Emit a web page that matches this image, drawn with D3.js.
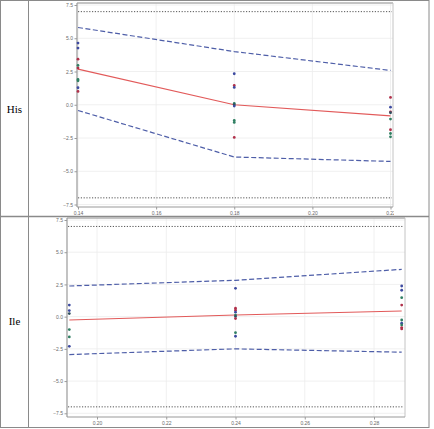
<!DOCTYPE html>
<html>
<head>
<meta charset="utf-8">
<script src="https://cdn.jsdelivr.net/npm/d3@7"></script>
<style>
  body { margin: 0; background: #fff; }
  svg { display: block; }
</style>
</head>
<body>
<script>
// --- His panel data ---
var hisX = [0.14, 0.18, 0.22];
var hisUpper = [5.81, 4.0, 2.58];
var hisFit = [2.68, 0.0, -0.83];
var hisLower = [-0.43, -3.93, -4.26];
var hisPoints = [
    [0.14, 4.64, "b"], [0.14, 4.26, "b"], [0.14, 3.43, "r"], [0.14, 2.96, "g"],
    [0.14, 2.76, "r"], [0.14, 1.9, "g"], [0.14, 1.8, "g"], [0.14, 1.28, "b"], [0.14, 1.0, "r"],
    [0.18, 2.33, "b"], [0.18, 1.45, "r"], [0.18, 1.3, "b"], [0.18, 0.1, "g"],
    [0.18, 0.0, "k"], [0.18, -0.1, "b"], [0.18, -1.18, "g"], [0.18, -1.33, "g"], [0.18, -2.46, "r"],
    [0.22, 0.55, "r"], [0.22, -0.18, "b"], [0.22, -0.53, "r"], [0.22, -0.6, "k"],
    [0.22, -1.08, "g"], [0.22, -1.88, "r"], [0.22, -2.16, "g"], [0.22, -2.41, "g"]
];
var hisXTicks = [0.14, 0.16, 0.18, 0.20, 0.22];

// --- Ile panel data ---
var ileX = [0.192, 0.24, 0.288];
var ileUpper = [2.38, 2.82, 3.67];
var ileFit = [-0.26, 0.13, 0.44];
var ileLower = [-2.94, -2.5, -2.76];
var ilePoints = [
    [0.192, 0.9, "b"], [0.192, 0.47, "b"], [0.192, 0.24, "k"], [0.192, -1.0, "g"],
    [0.192, -1.57, "g"], [0.192, -2.3, "b"],
    [0.24, 2.2, "b"], [0.24, 0.65, "r"], [0.24, 0.5, "r"], [0.24, 0.35, "b"],
    [0.24, 0.12, "g"], [0.24, 0.02, "k"], [0.24, -0.15, "r"], [0.24, -1.24, "g"], [0.24, -1.52, "b"],
    [0.288, 2.38, "b"], [0.288, 2.05, "b"], [0.288, 1.47, "g"], [0.288, 0.9, "r"],
    [0.288, -0.26, "g"], [0.288, -0.51, "b"], [0.288, -0.64, "g"], [0.288, -0.85, "r"], [0.288, -0.95, "r"]
];
var ileXTicks = [0.20, 0.22, 0.24, 0.26, 0.28];

var yTicks = [-7.5, -5.0, -2.5, 0.0, 2.5, 5.0, 7.5];
var limit = 7;

var pointColor = { b: "#3d4aa0", r: "#b0304a", g: "#2f7f62", k: "#2f4f5f" };

var width = 434, height = 429;

var svg = d3.select("body")
    .append("svg")
    .attr("width", width)
    .attr("height", height);

// table frame
var tableColor = "#8a8a8a";
svg.append("rect")
    .attr("x", 0.5).attr("y", 0.5)
    .attr("width", 428.5).attr("height", 427)
    .attr("fill", "none")
    .attr("stroke", tableColor);
svg.append("line")
    .attr("x1", 28.5).attr("x2", 28.5).attr("y1", 0).attr("y2", 428)
    .attr("stroke", tableColor);
svg.append("line")
    .attr("x1", 0).attr("x2", 429).attr("y1", 216.5).attr("y2", 216.5)
    .attr("stroke", tableColor).attr("stroke-width", 1.5);

svg.append("text")
    .attr("x", 14.5).attr("y", 110)
    .attr("text-anchor", "middle")
    .attr("dominant-baseline", "middle")
    .style("font-family", "Liberation Serif, serif")
    .style("font-size", "11px")
    .text("His");

svg.append("text")
    .attr("x", 14.5).attr("y", 322)
    .attr("text-anchor", "middle")
    .attr("dominant-baseline", "middle")
    .style("font-family", "Liberation Serif, serif")
    .style("font-size", "11px")
    .text("Ile");

drawPanel({
    id: "his",
    frame: [77, 3, 393, 207],
    xDomain: [0.14, 0.22], xRange: [78, 390.5],
    yRange: [204.5, 5],
    xTicks: hisXTicks,
    xs: hisX, upper: hisUpper, fit: hisFit, lower: hisLower,
    points: hisPoints,
    clipRight: 394
});

drawPanel({
    id: "ile",
    frame: [67, 218, 405, 417],
    xDomain: [0.20, 0.28], xRange: [97, 374],
    yRange: [413.3, 220],
    xTicks: ileXTicks,
    xs: ileX, upper: ileUpper, fit: ileFit, lower: ileLower,
    points: ilePoints,
    clipRight: 428
});

function drawPanel(p) {
    var left = p.frame[0], top = p.frame[1], right = p.frame[2], bottom = p.frame[3];

    var x = d3.scaleLinear().domain(p.xDomain).range(p.xRange);
    var y = d3.scaleLinear().domain([-7.5, 7.5]).range(p.yRange);

    svg.append("clipPath")
        .attr("id", "clip-" + p.id)
        .append("rect")
        .attr("x", 30).attr("y", top - 3)
        .attr("width", p.clipRight - 30).attr("height", bottom - top + 14);

    var g = svg.append("g").attr("clip-path", "url(#clip-" + p.id + ")");

    // grid
    g.selectAll(".gx")
        .data(p.xTicks)
        .enter().append("line")
        .attr("x1", function(d) { return x(d); })
        .attr("x2", function(d) { return x(d); })
        .attr("y1", top).attr("y2", bottom)
        .attr("stroke", "#ececec").attr("stroke-width", 0.8);

    g.selectAll(".gy")
        .data(yTicks)
        .enter().append("line")
        .attr("x1", left).attr("x2", right)
        .attr("y1", function(d) { return y(d); })
        .attr("y2", function(d) { return y(d); })
        .attr("stroke", "#ececec").attr("stroke-width", 0.8);

    // frame: light top/right, axis left/bottom
    g.append("line")
        .attr("x1", left).attr("x2", right).attr("y1", top).attr("y2", top)
        .attr("stroke", "#b0b0b0").attr("stroke-width", 1.5);
    g.append("line")
        .attr("x1", right).attr("x2", right).attr("y1", top).attr("y2", bottom)
        .attr("stroke", "#c4c4c4").attr("stroke-width", 1);

    var yAxis = d3.axisLeft(y)
        .tickValues(yTicks)
        .tickSize(2.5)
        .tickPadding(1.5)
        .tickFormat(d3.format(".1f"));
    var yg = g.append("g")
        .attr("transform", "translate(" + left + ",0)")
        .call(yAxis);
    yg.select(".domain").attr("d", "M0," + top + "V" + bottom);

    var xAxis = d3.axisBottom(x)
        .tickValues(p.xTicks)
        .tickSize(2.5)
        .tickPadding(1.5)
        .tickFormat(d3.format(".2f"));
    var xg = g.append("g")
        .attr("transform", "translate(0," + bottom + ")")
        .call(xAxis);
    xg.select(".domain").attr("d", "M" + left + ",0H" + right);

    [yg, xg].forEach(function(a) {
        a.selectAll(".domain").attr("stroke", "#9a9a9a").attr("stroke-width", 1.2);
        a.selectAll(".tick line").attr("stroke", "#9a9a9a");
        a.selectAll("text")
            .attr("fill", "#6a6a6a")
            .style("font-family", "Liberation Sans, Arial, sans-serif")
            .style("font-size", "5px");
    });

    // limit lines
    g.selectAll(".lim")
        .data([limit, -limit])
        .enter().append("line")
        .attr("x1", left + 1).attr("x2", right - 1)
        .attr("y1", function(d) { return y(d); })
        .attr("y2", function(d) { return y(d); })
        .attr("stroke", "#555")
        .attr("stroke-width", 1)
        .attr("stroke-dasharray", "1.2,1.6");

    var line = d3.line()
        .x(function(d) { return x(d[0]); })
        .y(function(d) { return y(d[1]); });

    function series(vals) {
        return p.xs.map(function(v, i) { return [v, vals[i]]; });
    }

    [p.upper, p.lower].forEach(function(vals) {
        g.append("path")
            .attr("d", line(series(vals)))
            .attr("fill", "none")
            .attr("stroke", "#4e5ea8")
            .attr("stroke-width", 1.2)
            .attr("stroke-dasharray", "5,2.5");
    });

    g.append("path")
        .attr("d", line(series(p.fit)))
        .attr("fill", "none")
        .attr("stroke", "#e25a5a")
        .attr("stroke-width", 1.2);

    g.selectAll(".pt")
        .data(p.points)
        .enter().append("circle")
        .attr("cx", function(d) { return x(d[0]); })
        .attr("cy", function(d) { return y(d[1]); })
        .attr("r", 1.4)
        .attr("fill", function(d) { return pointColor[d[2]]; });
}
</script>
</body>
</html>
